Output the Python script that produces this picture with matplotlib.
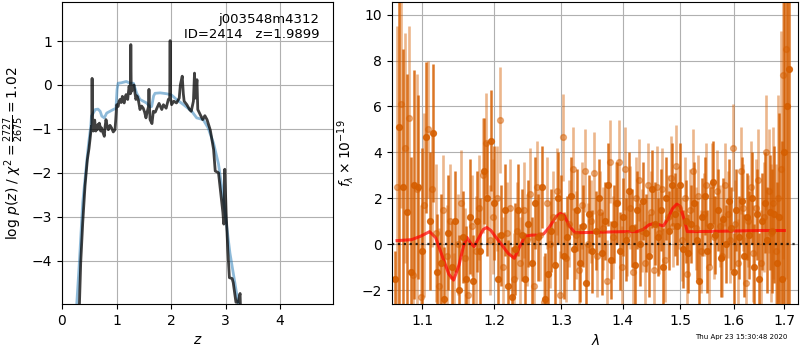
import numpy as np
import matplotlib
matplotlib.use('Agg')
import matplotlib.pyplot as plt
from matplotlib.ticker import NullLocator, FixedLocator, FixedFormatter

# p(z) curves
z_pz = [0.31, 0.343, 0.38, 0.422, 0.465, 0.495, 0.514, 0.54, 0.547, 0.552, 0.558, 0.575,
        0.59, 0.60, 0.61, 0.62, 0.635, 0.648, 0.66, 0.672, 0.684, 0.70, 0.71, 0.727,
        0.75, 0.776, 0.79, 0.807, 0.83, 0.85, 0.88, 0.91, 0.94, 0.972, 0.985, 1.003,
        1.03, 1.045, 1.064, 1.085, 1.107, 1.12, 1.14, 1.16, 1.175, 1.19, 1.205, 1.23,
        1.245, 1.255, 1.262, 1.27, 1.28, 1.30, 1.32, 1.34, 1.355, 1.375, 1.398, 1.415,
        1.43, 1.46, 1.49, 1.515, 1.54, 1.565, 1.585, 1.595, 1.605, 1.615, 1.65, 1.675,
        1.71, 1.74, 1.78, 1.83, 1.86, 1.91, 1.95, 1.975, 1.983, 1.99, 2.01, 2.05,
        2.10, 2.15, 2.17, 2.205, 2.225, 2.24, 2.29, 2.34, 2.37, 2.41, 2.43, 2.445,
        2.46, 2.475, 2.49, 2.545, 2.58, 2.62, 2.66, 2.72, 2.78, 2.81, 2.87, 2.91,
        2.95, 2.967, 2.985, 3.01, 3.04, 3.07, 3.12, 3.14, 3.19, 3.23, 3.266, 3.28]
logpz = [-5.4, -4.05, -3.14, -2.3, -1.7, -1.45, -1.24, -0.94, -0.95, 0.15, -1.0, -1.05,
         -0.85, -0.8, -0.95, -1.05, -0.92, -1.02, -0.9, -0.98, -0.87, -0.95, -1.05, -0.98,
         -1.08, -1.17, -0.95, -0.79, -0.95, -1.02, -0.92, -0.98, -1.07, -1.02, -0.8, -0.45,
         -0.49, -0.38, -0.33, -0.4, -0.26, -0.36, -0.41, -0.28, -0.22, -0.3, -0.33, -0.03,
         -0.15, -0.2, 0.92, -0.15, -0.14, -0.08, 0.0, -0.2, -0.33, -0.25, -0.33, -0.45,
         -0.56, -0.48, -0.53, -0.62, -0.75, -0.6, -0.5, -0.1, -0.5, -0.79, -0.88, -0.6,
         -0.62, -0.53, -0.42, -0.56, -0.45, -0.53, -0.33, -0.3, 1.01, -0.3, -0.45, -0.37,
         -0.41, -0.3, 0.0, 0.2, -0.2, -0.37, -0.45, -0.56, -0.6, -0.37, 0.27, -0.3,
         -0.1, 0.12, -0.56, -0.7, -0.79, -0.7, -0.79, -1.03, -1.47, -1.96, -2.0, -2.45,
         -2.9, -3.17, -1.92, -2.9, -3.74, -4.39, -4.41, -4.5, -4.95, -4.95, -4.75, -5.4]

z_prior = [0.25, 0.27, 0.318, 0.38, 0.44, 0.483, 0.527, 0.54, 0.61, 0.66, 0.70, 0.73,
           0.776, 0.82, 0.88, 0.94, 0.99, 1.01, 1.03, 1.09, 1.15, 1.18, 1.24, 1.31,
           1.37, 1.40, 1.43, 1.49, 1.55, 1.615, 1.645, 1.68, 1.706, 1.80, 1.92, 2.01,
           2.10, 2.23, 2.38, 2.47, 2.59, 2.68, 2.78, 2.87, 2.95, 3.02, 3.08, 3.14,
           3.20, 3.25, 3.28]
logp_prior = [-5.5, -5.0, -4.05, -2.68, -1.92, -1.39, -0.94, -0.71, -0.56, -0.55, -0.6, -0.71,
              -0.75, -0.64, -0.6, -0.56, -0.53, -0.1, 0.04, 0.05, 0.07, 0.08, 0.04, 0.04,
              -0.19, -0.26, -0.33, -0.37, -0.41, -0.5, -0.49, -0.25, -0.19, -0.18, -0.2, -0.23,
              -0.33, -0.45, -0.6, -0.75, -0.79, -0.98, -1.33, -1.8, -2.5, -3.21, -3.83, -4.28,
              -4.73, -5.1, -5.5]

# spectrum 1 (dark)
wave1 = [1.065, 1.070, 1.075, 1.080, 1.085, 1.090, 1.095, 1.100, 1.105, 1.110, 1.115, 1.120,
         1.125, 1.130, 1.135, 1.140, 1.145, 1.150, 1.155, 1.160, 1.165, 1.170, 1.175, 1.180,
         1.185, 1.190, 1.195, 1.200, 1.205, 1.210, 1.215, 1.220, 1.225, 1.230, 1.235, 1.240,
         1.245, 1.250, 1.255, 1.260, 1.265, 1.270, 1.275, 1.280, 1.285, 1.290, 1.295, 1.300,
         1.305, 1.310, 1.315, 1.320, 1.325, 1.330, 1.335, 1.340, 1.345, 1.350, 1.355, 1.360,
         1.365, 1.370, 1.375, 1.380, 1.385, 1.390, 1.395, 1.400, 1.405, 1.410, 1.415, 1.420,
         1.425, 1.430, 1.435, 1.440, 1.445, 1.450, 1.455, 1.460, 1.465, 1.470, 1.475, 1.480,
         1.485, 1.490, 1.495, 1.500, 1.505, 1.510, 1.515, 1.520, 1.525, 1.530, 1.535, 1.540,
         1.545, 1.550, 1.555, 1.560, 1.565, 1.570, 1.575, 1.580, 1.585, 1.590, 1.595, 1.600,
         1.605, 1.610, 1.615, 1.620, 1.625, 1.630, 1.635, 1.640, 1.645, 1.650, 1.655, 1.660,
         1.665, 1.670, 1.675, 1.680, 1.685, 1.690, 1.695, 1.700, 1.705, 1.710]
flux1 = [-1.5, 5.1, 2.5, 1.4, -1.2, 2.6, 2.5, -0.3, 4.65, 1.0, 4.85, -1.2,
         -0.8, -2.4, 0.5, -1.0, 1.0, -2.0, 0.3, -1.5, 1.2, -1.6, 1.0, -0.3,
         3.2, 2.0, 4.5, 1.8, -1.5, 0.4, 1.5, -1.8, -2.3, -0.2, 1.5, 0.4,
         -1.5, 0.9, -0.8, 1.8, 0.3, 2.5, -2.4, -1.3, 0.6, -0.9, 2.0, 1.2,
         -0.5, 0.3, 2.1, -0.2, 1.5, -0.8, 0.8, -1.7, 1.3, -0.3, 0.6, 2.0,
         -0.4, 1.0, 2.6, -0.7, 0.9, 1.8, -0.3, 1.2, 0.2, 2.3, 0.7, -0.9,
         1.5, 0.0, 1.9, 0.5, -0.5, 2.4, 0.9, 0.3, 1.5, -1.0, 2.0, 0.6,
         2.6, 1.3, 0.8, 2.6, -0.2, 1.0, -0.4, 0.9, 1.8, 0.2, -1.6, 1.2,
         2.1, -0.3, 0.8, 2.7, 0.4, 1.5, -0.6, 1.1, 0.0, 1.9, 0.7, -1.2,
         1.5, 0.3, 1.9, -0.5, 1.2, 0.4, 2.0, -1.0, 1.3, -1.5, 1.0, 1.8,
         0.2, 1.4, 0.6, 1.3, -0.8, 1.2, -1.5, 4.0, 6.0, 7.65]
err1 = [1.2, 8.0, 6.0, 6.0, 5.0, 5.0, 4.0, 4.5, 3.3, 3.0, 3.0, 2.5,
        3.0, 2.3, 2.5, 2.0, 2.2, 2.4, 2.0, 2.3, 2.5, 2.0, 2.2, 2.3,
        2.3, 2.5, 2.2, 2.5, 2.0, 2.2, 2.0, 2.0, 2.2, 2.0, 2.0, 2.0,
        2.0, 1.9, 2.0, 2.0, 1.9, 1.8, 2.0, 1.9, 1.8, 1.9, 2.0, 1.8,
        1.9, 1.8, 1.7, 1.8, 1.8, 1.7, 1.8, 1.7, 1.7, 1.8, 1.7, 1.7,
        1.8, 1.7, 1.8, 1.7, 1.7, 1.8, 1.7, 1.7, 1.8, 1.7, 1.7, 1.8,
        1.7, 1.8, 1.7, 1.7, 1.8, 1.7, 1.8, 1.7, 1.8, 1.7, 1.8, 1.7,
        1.8, 1.8, 1.7, 1.8, 1.7, 1.8, 1.7, 1.7, 1.8, 1.7, 1.8, 1.7,
        1.7, 1.8, 1.7, 1.8, 1.7, 1.8, 1.7, 1.8, 1.7, 1.8, 1.8, 1.7,
        1.8, 1.8, 1.9, 1.8, 1.9, 1.9, 2.0, 1.9, 2.0, 2.0, 2.1, 2.2,
        2.3, 2.5, 2.7, 3.0, 3.5, 4.5, 6.0, 9.0, 12.0, 12.0]

# spectrum 2 (light)
wave2 = [1.068, 1.073, 1.078, 1.083, 1.088, 1.093, 1.098, 1.103, 1.108, 1.113, 1.118, 1.123,
         1.128, 1.133, 1.138, 1.143, 1.148, 1.153, 1.158, 1.163, 1.168, 1.173, 1.178, 1.183,
         1.188, 1.193, 1.198, 1.203, 1.208, 1.213, 1.218, 1.223, 1.228, 1.233, 1.238, 1.243,
         1.248, 1.253, 1.258, 1.263, 1.268, 1.273, 1.278, 1.283, 1.288, 1.293, 1.298, 1.303,
         1.308, 1.313, 1.318, 1.323, 1.328, 1.333, 1.338, 1.343, 1.348, 1.353, 1.358, 1.363,
         1.368, 1.373, 1.378, 1.383, 1.388, 1.393, 1.398, 1.403, 1.408, 1.413, 1.418, 1.423,
         1.428, 1.433, 1.438, 1.443, 1.448, 1.453, 1.458, 1.463, 1.468, 1.473, 1.478, 1.483,
         1.488, 1.493, 1.498, 1.503, 1.508, 1.513, 1.518, 1.523, 1.528, 1.533, 1.538, 1.543,
         1.548, 1.553, 1.558, 1.563, 1.568, 1.573, 1.578, 1.583, 1.588, 1.593, 1.598, 1.603,
         1.608, 1.613, 1.618, 1.623, 1.628, 1.633, 1.638, 1.643, 1.648, 1.653, 1.658, 1.663,
         1.668, 1.673, 1.678, 1.683, 1.688, 1.693, 1.698, 1.703]
flux2 = [2.5, 6.1, 4.2, 5.5, -1.35, 2.4, -2.3, 1.7, 5.0, 2.4, 0.5, -1.8,
         1.5, -0.5, 1.0, -2.8, 0.0, 1.8, -0.6, -2.2, 0.8, -0.3, 1.6, 3.0,
         4.4, 0.2, 1.2, 2.0, 5.4, -1.0, 0.5, 1.6, -1.5, 0.6, -0.8, 1.5,
         0.2, 2.2, -1.8, 2.5, 0.4, -2.5, 1.8, 0.0, 1.2, 2.3, -2.2, 4.65,
         -0.6, 0.9, 3.3, 0.4, -1.1, 1.7, 3.2, 0.0, 1.0, 3.1, -0.5, 1.4,
         0.7, -1.6, 3.6, 0.3, 1.8, 3.6, -1.0, 3.3, 0.4, 1.6, -1.2, 2.0,
         2.8, 0.6, -0.8, 2.6, 1.4, -1.1, 2.5, 0.5, 2.4, -0.7, 1.2, 2.9,
         0.8, 3.4, 1.6, 0.2, 2.0, -1.3, 1.5, 3.2, 0.7, 2.1, -0.3, 1.3,
         2.6, -1.0, 2.6, 0.3, 2.3, 0.8, -0.5, 2.6, 1.3, 0.2, 4.2, 0.9,
         -0.8, 3.2, 1.6, -1.7, 1.0, 2.5, -0.4, 1.6, 2.8, -0.8, 1.2, 4.0,
         2.3, 0.5, 1.8, -0.3, 2.0, 3.3, 7.35, 8.5]
err2 = [7.0, 4.5, 5.0, 4.0, 4.0, 5.0, 4.0, 4.0, 3.0, 2.5, 3.0, 2.5,
        2.4, 2.2, 2.5, 2.4, 2.2, 2.3, 2.2, 2.4, 2.2, 2.4, 2.3, 2.5,
        2.2, 2.4, 2.5, 2.3, 2.3, 2.2, 2.2, 2.1, 2.0, 2.1, 2.0, 2.1,
        2.0, 2.0, 2.1, 2.0, 2.0, 2.0, 2.0, 1.9, 2.0, 1.9, 1.9, 1.9,
        1.9, 1.9, 1.8, 1.9, 1.8, 1.9, 1.8, 1.8, 1.8, 1.8, 1.8, 1.8,
        1.8, 1.8, 1.8, 1.8, 1.8, 1.8, 1.8, 1.8, 1.8, 1.8, 1.8, 1.8,
        1.8, 1.8, 1.8, 1.8, 1.8, 1.8, 1.8, 1.8, 1.8, 1.8, 1.8, 1.8,
        1.8, 1.8, 1.8, 1.8, 1.8, 1.8, 1.8, 1.8, 1.8, 1.8, 1.8, 1.8,
        1.8, 1.8, 1.8, 1.8, 1.8, 1.8, 1.8, 1.8, 1.9, 1.9, 1.9, 1.9,
        1.9, 1.9, 1.9, 2.0, 2.0, 2.0, 2.1, 2.1, 2.2, 2.3, 2.4, 2.5,
        2.7, 3.0, 3.3, 3.8, 4.5, 6.0, 8.0, 10.0]

# best-fit model
wave_model = [1.0675, 1.086, 1.098, 1.110, 1.118, 1.128, 1.136, 1.1426, 1.150, 1.156, 1.161,
              1.166, 1.171, 1.178, 1.184, 1.189, 1.195, 1.201, 1.210, 1.220, 1.229, 1.237,
              1.245, 1.255, 1.266, 1.273, 1.282, 1.292, 1.299, 1.305, 1.313, 1.322, 1.35,
              1.40, 1.424, 1.435, 1.445, 1.453, 1.463, 1.470, 1.478, 1.486, 1.494, 1.500,
              1.507, 1.513, 1.55, 1.60, 1.65, 1.70]
flux_model = [0.16, 0.2, 0.35, 0.55, 0.3, -0.6, -1.3, -1.56, -0.9, -0.1, 0.3,
              0.05, -0.1, 0.3, 0.65, 0.73, 0.6, 0.35, 0.0, -0.4, -0.61, -0.1,
              0.35, 0.4, 0.4, 0.45, 0.75, 1.2, 1.35, 1.25, 0.8, 0.5, 0.52,
              0.55, 0.55, 0.65, 0.85, 0.9, 0.85, 0.8, 1.1, 1.55, 1.75, 1.65,
              1.1, 0.55, 0.56, 0.58, 0.6, 0.6]

wave_ticks = [1.1, 1.2, 1.3, 1.4, 1.5, 1.6, 1.7]
g141_color = (0.8352941176470589, 0.3686274509803922, 0.0)

fig = plt.figure(figsize=(8, 3.5), dpi=100)
ax1 = fig.add_axes([0.0775, 0.1314, 0.33875, 0.8629])
ax2 = fig.add_axes([0.49, 0.1314, 0.508, 0.8629])

# left: p(z)
ax1.plot(z_prior, logp_prior, color='#1f77b4', alpha=0.5, lw=2)
ax1.plot(z_pz, logpz, color='k', alpha=0.75, lw=2)
ax1.set_xlim(0, 4.97)
ax1.set_ylim(max(logpz) - 6, max(logpz) + 0.88)
ax1.set_xticks([0, 1, 2, 3, 4])
ax1.set_yticks([-4, -3, -2, -1, 0, 1])
ax1.set_xlabel(r'$z$')
ax1.set_ylabel(r'log $p(z)$ / $\chi^2=\frac{2727}{2675}=1.02$')
ax1.text(0.95, 0.965, 'j003548m4312\nID=2414   z=1.9899', transform=ax1.transAxes,
         ha='right', va='top', fontsize=9.5)
ax1.grid()

# right: spectrum
ax2.errorbar(wave2, flux2, err2, color=g141_color, alpha=0.45, marker='o', ms=4.2,
             linestyle='None', elinewidth=1.9)
ax2.errorbar(wave1, flux1, err1, color=g141_color, alpha=0.85, marker='o', ms=4.2,
             linestyle='None', elinewidth=1.8)
ax2.plot(wave_model, flux_model, color='r', alpha=0.7, lw=2.2)
ax2.axhline(0, color='k', linestyle=':', lw=1.6, alpha=0.8)
ax2.set_xscale('log')
ax2.xaxis.set_major_locator(FixedLocator(wave_ticks))
ax2.xaxis.set_major_formatter(FixedFormatter([f'{w:.1f}' for w in wave_ticks]))
ax2.xaxis.set_minor_locator(NullLocator())
ax2.set_xlim(1.061, 1.729)
ax2.set_ylim(-2.6, 10.55)
ax2.set_xlabel(r'$\lambda$')
ax2.set_ylabel(r'$f_\lambda \times 10^{-19}$')
ax2.grid()

fig.text(0.984, 0.028, 'Thu Apr 23 15:30:48 2020', ha='right', va='bottom', fontsize=5)

fig.savefig('out.png', dpi=100)
